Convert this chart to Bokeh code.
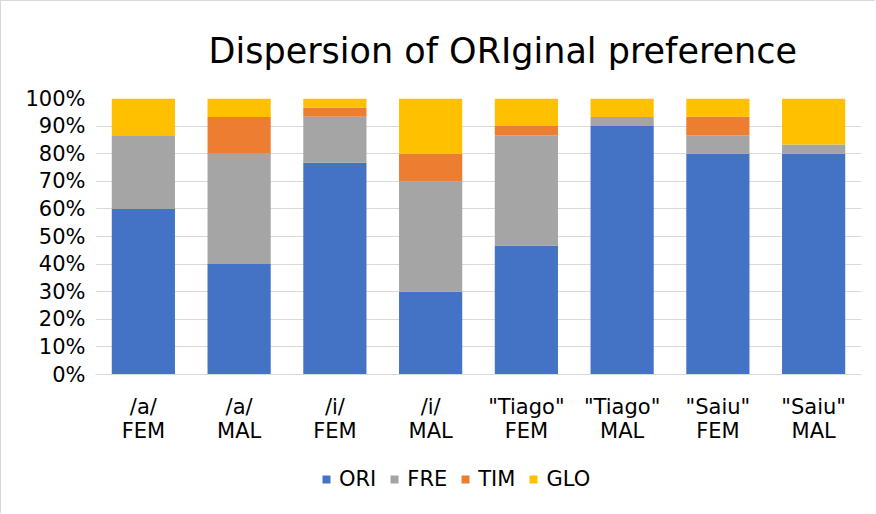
from bokeh.plotting import figure
from bokeh.layouts import column
from bokeh.models import (FactorRange, Range1d, ColumnDataSource, FixedTicker,
                          PrintfTickFormatter, Legend, LegendItem)
from bokeh.embed import file_html
from bokeh.resources import INLINE

categories = ['/a/\nFEM', '/a/\nMAL', '/i/\nFEM', '/i/\nMAL',
              '"Tiago"\nFEM', '"Tiago"\nMAL', '"Saiu"\nFEM', '"Saiu"\nMAL']
series = ["ORI", "FRE", "TIM", "GLO"]
ori = [60.0, 40.0, 76.7, 30.0, 46.7, 90.0, 80.0, 80.0]
fre = [26.7, 40.0, 16.7, 40.0, 40.0, 3.3, 6.7, 3.3]
tim = [0.0, 13.3, 3.3, 10.0, 3.3, 0.0, 6.7, 0.0]
glo = [13.3, 6.7, 3.3, 20.0, 10.0, 6.7, 6.7, 16.7]
colors = ["#4472C4", "#A5A5A5", "#ED7D31", "#FFC000"]
y_ticks = [0, 10, 20, 30, 40, 50, 60, 70, 80, 90, 100]
title_text = "Dispersion of ORIginal preference"

FONT = "DejaVu Sans"
BORDER = "1px solid #d9d9d9"

source = ColumnDataSource(dict(cat=categories, ORI=ori, FRE=fre, TIM=tim, GLO=glo))

p = figure(width=875, height=447, output_backend="svg", toolbar_location=None,
           x_range=FactorRange(*categories, range_padding=0), y_range=(0, 100),
           min_border_left=94, min_border_right=15, min_border_top=97, min_border_bottom=74,
           title=title_text)
p.styles = {"border-left": BORDER, "border-top": BORDER}

p.title.text_font = FONT
p.title.text_font_size = "35px"
p.title.text_font_style = "normal"
p.title.text_color = "black"
p.title.align = "left"
p.title.offset = 113
p.title.standoff = 55

p.vbar_stack(series, x="cat", width=0.66, color=colors, source=source, line_color=None)

p.outline_line_color = None
p.xgrid.grid_line_color = None
p.ygrid.grid_line_color = "#D9D9D9"
p.ygrid.grid_line_width = 1
p.ygrid.ticker = FixedTicker(ticks=y_ticks)

p.yaxis.ticker = FixedTicker(ticks=y_ticks)
p.yaxis.formatter = PrintfTickFormatter(format="%d%%")
p.yaxis.axis_line_color = None
p.yaxis.major_tick_line_color = None
p.yaxis.minor_tick_line_color = None
p.yaxis.major_tick_out = 0
p.yaxis.major_label_standoff = 10
p.yaxis.major_label_text_font = FONT
p.yaxis.major_label_text_font_size = "21px"
p.yaxis.major_label_text_color = "black"

p.xaxis.axis_line_color = "#D9D9D9"
p.xaxis.major_tick_line_color = None
p.xaxis.minor_tick_line_color = None
p.xaxis.major_tick_out = 0
p.xaxis.major_label_standoff = 20
p.xaxis.major_label_text_font = FONT
p.xaxis.major_label_text_font_size = "21px"
p.xaxis.major_label_text_color = "black"
p.xaxis.major_label_text_line_height = 1.0

# legend strip below the chart (its frame is aligned with the chart frame by the column layout)
leg = figure(width=875, height=66, output_backend="svg", toolbar_location=None,
             x_range=Range1d(0, 1), y_range=Range1d(0, 1),
             min_border_left=0, min_border_right=0, min_border_top=0, min_border_bottom=0)
leg.styles = {"border-left": BORDER}
leg.axis.visible = False
leg.grid.visible = False
leg.outline_line_color = None
items = []
for s, c in zip(series, colors):
    # zero-height bar: invisible in the strip, only supplies the legend swatch
    r = leg.vbar(x=[0.5], top=[0], width=0.1, color=c, line_color=None)
    items.append(LegendItem(label=s, renderers=[r]))
legend = Legend(items=items, orientation="horizontal", location=(226, 22),
                padding=0, margin=0, spacing=13, label_standoff=8,
                glyph_width=10, glyph_height=10,
                label_text_font=FONT, label_text_font_size="21px", label_text_color="black",
                border_line_color=None, background_fill_alpha=0)
leg.add_layout(legend, "center")

layout = column(p, leg, spacing=0)
open("out.html", "w").write(file_html(layout, INLINE))
